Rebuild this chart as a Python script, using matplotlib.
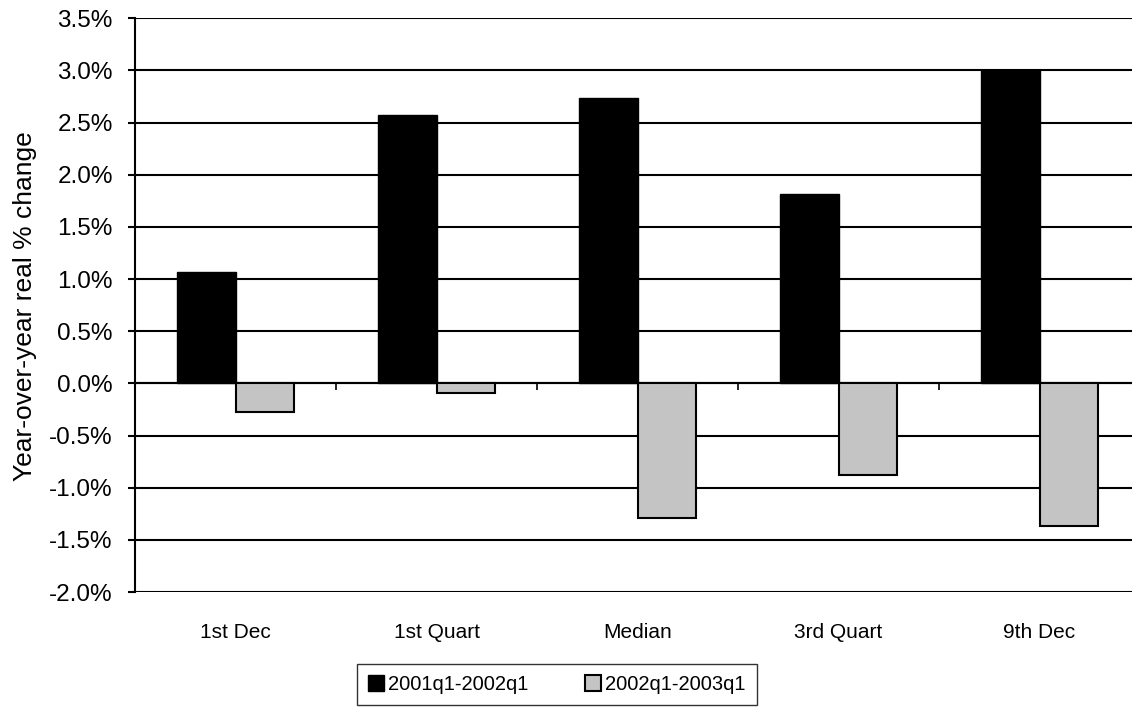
import numpy as np
import matplotlib.pyplot as plt

plt.rcParams['font.family'] = ['Liberation Sans', 'DejaVu Sans']

categories = ['1st Dec', '1st Quart', 'Median', '3rd Quart', '9th Dec']
series_names = ['2001q1-2002q1', '2002q1-2003q1']
change_01_02 = [1.07, 2.57, 2.74, 1.82, 3.00]
change_02_03 = [-0.27, -0.09, -1.29, -0.88, -1.37]
yticks = np.arange(-2.0, 3.51, 0.5)

fig = plt.figure(figsize=[11.32, 7.08], dpi=100)
ax = fig.add_axes([0.1193, 0.1638, 0.8807, 0.8103])

x = np.arange(len(categories))
w = 0.29
ax.bar(x - w / 2, change_01_02, width=w, color='black', edgecolor='black', linewidth=1, label=series_names[0], zorder=3)
ax.bar(x + w / 2, change_02_03, width=w, color='#c4c4c4', edgecolor='black', linewidth=1.5, label=series_names[1], zorder=3)

ax.set_ylim(-2.0, 3.5)
ax.set_xlim(-0.5, -0.5 + 997 / 201)
ax.set_yticks(yticks)
ax.set_yticklabels(["{:.1f}%".format(v) for v in yticks])
ax.yaxis.grid(True, color='black', linewidth=1.5, zorder=0)
ax.set_axisbelow(True)

for s in ['top', 'right', 'bottom']:
    ax.spines[s].set_visible(False)
ax.spines['left'].set_linewidth(1.5)

ax.tick_params(axis='y', length=5, width=1.5, pad=11, labelsize=17.5)
ax.set_xticks(x)
ax.set_xticklabels(categories)
ax.tick_params(axis='x', length=0, pad=22, labelsize=15)

# category axis crossing at zero, with tick marks between categories
zero_frac = (0 - (-2.0)) / 5.5
sec = ax.secondary_xaxis(zero_frac)
sec.set_xticks(np.arange(0.5, len(categories) - 0.5, 1.0))
sec.set_xticklabels([])
sec.tick_params(length=5, width=1.2, direction='out')
sec.spines['bottom'].set_linewidth(1.5)

ax.set_ylabel("Year-over-year real % change", fontsize=19)
ax.yaxis.set_label_coords(-0.098, 0.498)

fig.legend(loc='upper center', bbox_to_anchor=(0.492, 0.062), ncol=2, frameon=True, fancybox=False,
           edgecolor='black', fontsize=14.5, handlelength=0.8, handleheight=0.8, handletextpad=0.2,
           columnspacing=2.8, borderpad=0.55, borderaxespad=0)

fig.savefig("out.png")
